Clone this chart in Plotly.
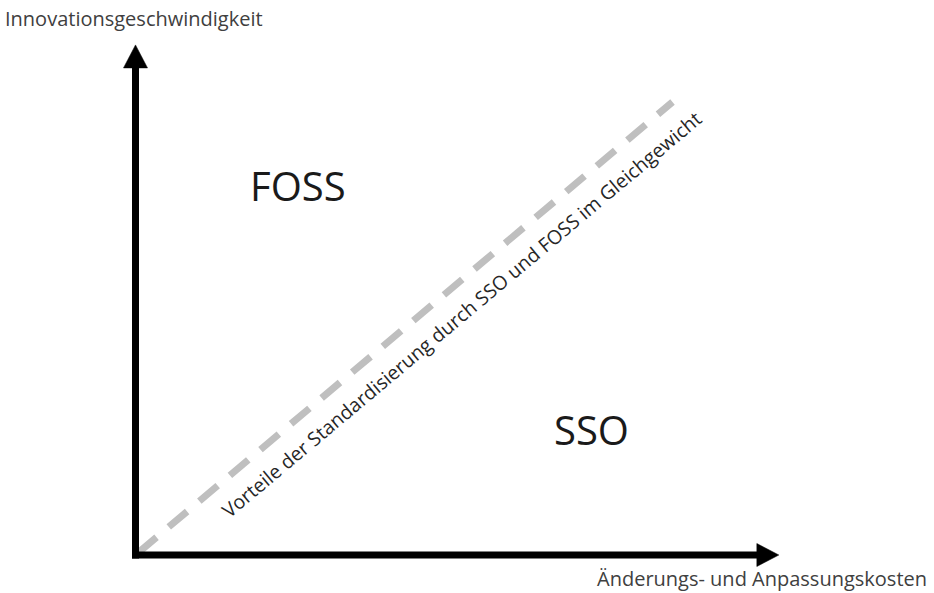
import plotly.graph_objects as go

# ---- data (conceptual units: origin = 0, diagonal end = 1) ----
diag_x = [0.005, 1.0]
diag_y = [0.005, 1.0]
x_axis_end = 1.198      # arrow tip on the cost axis
y_axis_end = 1.126      # arrow tip on the speed axis
region_labels = ["FOSS", "SSO"]
region_x = [0.303, 0.85]
region_y = [0.816, 0.276]
diag_label = "Vorteile der Standardisierung durch SSO und FOSS im Gleichgewicht"
x_title = "Änderungs- und Anpassungskosten"
y_title = "Innovationsgeschwindigkeit"

# ---- pixel scale of the drawing ----
W, H = 934, 593
OX, OY = 135.5, 555.0      # origin in pixels
SX, SY = 537.0, 453.0      # pixels per unit

def px(xp):
    return (xp - OX) / SX

def py(yp):
    return (OY - yp) / SY

fig = go.Figure()

# dashed diagonal
fig.add_trace(go.Scatter(x=diag_x, y=diag_y, mode="lines",
                         line=dict(color="#BFBFBF", width=7, dash="24px,16px"),
                         hoverinfo="skip", showlegend=False))

shaft = 7
head_len_x, head_half_x = 22.0, 11.5
head_len_y, head_half_y = 23.0, 12.0

# x-axis shaft + head
fig.add_trace(go.Scatter(x=[px(OX - shaft / 2), x_axis_end - head_len_x / SX + 0.002], y=[0, 0],
                         mode="lines", line=dict(color="black", width=shaft),
                         hoverinfo="skip", showlegend=False))
fig.add_trace(go.Scatter(x=[x_axis_end - head_len_x / SX, x_axis_end, x_axis_end - head_len_x / SX,
                            x_axis_end - head_len_x / SX],
                         y=[head_half_x / SY, 0, -head_half_x / SY, head_half_x / SY],
                         mode="lines", fill="toself", fillcolor="black",
                         line=dict(color="black", width=0.5),
                         hoverinfo="skip", showlegend=False))
# y-axis shaft + head
fig.add_trace(go.Scatter(x=[0, 0], y=[py(OY + shaft / 2), y_axis_end - head_len_y / SY + 0.002],
                         mode="lines", line=dict(color="black", width=shaft),
                         hoverinfo="skip", showlegend=False))
fig.add_trace(go.Scatter(x=[-head_half_y / SX, 0, head_half_y / SX, -head_half_y / SX],
                         y=[y_axis_end - head_len_y / SY, y_axis_end, y_axis_end - head_len_y / SY,
                            y_axis_end - head_len_y / SY],
                         mode="lines", fill="toself", fillcolor="black",
                         line=dict(color="black", width=0.5),
                         hoverinfo="skip", showlegend=False))

FONT = "Open Sans"
ann = []
for lab, xx, yy in zip(region_labels, region_x, region_y):
    ann.append(dict(x=xx, y=yy, xref="x", yref="y", text=lab, showarrow=False,
                    xanchor="center", yanchor="middle",
                    font=dict(family=FONT, size=40, color="#1a1a1a")))
ann.append(dict(x=px(461), y=py(314), xref="x", yref="y", text=diag_label, showarrow=False,
                textangle=-40, xanchor="center", yanchor="middle",
                font=dict(family=FONT, size=19.5, color="#262626")))
ann.append(dict(x=px(3), y=py(18), xref="x", yref="y", text=y_title, showarrow=False,
                xanchor="left", yanchor="middle",
                font=dict(family=FONT, size=20, color="#404040")))
ann.append(dict(x=px(929), y=py(578), xref="x", yref="y", text=x_title, showarrow=False,
                xanchor="right", yanchor="middle",
                font=dict(family=FONT, size=20, color="#404040")))

fig.update_layout(
    width=W, height=H,
    margin=dict(l=0, r=0, t=0, b=0),
    paper_bgcolor="white", plot_bgcolor="white",
    xaxis=dict(range=[px(0), px(W)], visible=False, fixedrange=True),
    yaxis=dict(range=[py(H), py(0)], visible=False, fixedrange=True),
    annotations=ann,
    showlegend=False,
)

fig.write_html("out.html", config={"displayModeBar": False},
               post_script="document.body.style.margin='0';document.body.style.overflow='hidden';")
